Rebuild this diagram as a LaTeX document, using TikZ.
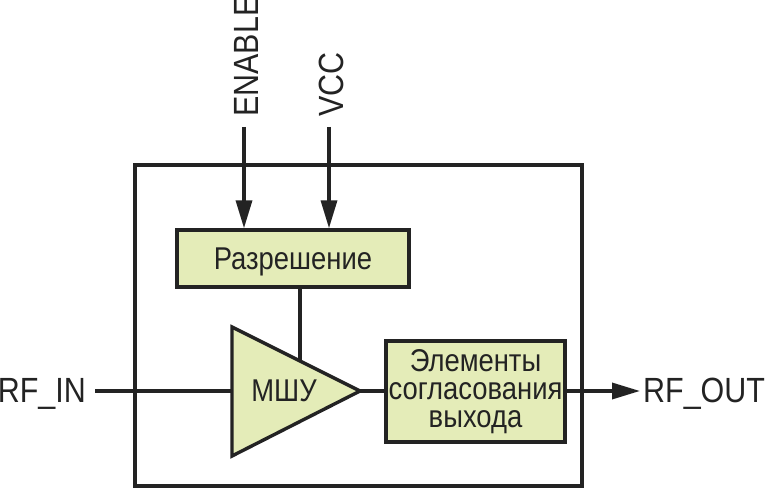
\documentclass[tikz,border=0pt]{standalone}
\usepackage{fontspec}
\setmainfont{Liberation Sans}[FakeStretch=0.87]
\usetikzlibrary{arrows.meta,calc}
\definecolor{ink}{HTML}{232323}
\definecolor{boxfill}{HTML}{E4ECB8}
\begin{document}
\begin{tikzpicture}[x=1pt,y=-1pt,
  every node/.style={text=ink},
  wire/.style={draw=ink,line width=3.4pt},
  blk/.style={draw=ink,line width=3.4pt,fill=boxfill,inner sep=0pt},
  arr/.style={wire,-{Triangle[length=28pt,width=16pt]}},
  lbl/.style={font=\fontsize{35}{40}\selectfont,inner sep=0pt},
  btxt/.style={font=\fontsize{31.5}{28}\selectfont}]
\useasboundingbox[fill=white] (0,0) rectangle (765,489);
% outer chip
\node[draw=ink,line width=3.4pt,minimum width=447pt,minimum height=321pt,inner sep=0pt] (chip) at (358.5,325.5) {};
% enable block
\node[blk,btxt,minimum width=232pt,minimum height=57pt,text depth=0pt] (en) at (293,258.5) {Разрешение};
% LNA triangle
\coordinate (tl) at (232,327);
\coordinate (tb) at (232,456);
\coordinate (tip) at (360,391);
\filldraw[draw=ink,fill=boxfill,line width=3.4pt,line join=miter] (tl) -- (tip) -- (tb) -- cycle;
\node[btxt,inner sep=0pt,text depth=0pt] (lna) at (284,391) {МШУ};
% output matching block
\node[blk,btxt,align=center,minimum width=179pt,minimum height=101pt] (om) at (475.5,391.5) {Элементы\\согласования\\выхода};
% pin labels
\coordinate (enTop) at (244,127);
\coordinate (vccTop) at (329,127);
\node[lbl,rotate=90,anchor=base west] (enl) at (258,117) {ENABLE};
\node[lbl,rotate=90,anchor=base west] (vccl) at (343,117) {VCC};
\node[lbl,anchor=base east] (rfin) at (86,402) {RF\_IN};
\node[lbl,anchor=base west] (rfout) at (643,402) {RF\_OUT};
\coordinate (inStart) at (95,391);
\coordinate (outEnd) at (640,391);
\coordinate (ctl) at (300,361);
% connectors
\draw[arr] (enTop) -- (enTop |- en.north);
\draw[arr] (vccTop) -- (vccTop |- en.north);
\draw[wire] (ctl |- en.south) -- (ctl);
\draw[wire] (inStart) -- (tl |- inStart);
\draw[wire] (tip) -- (tip -| om.west);
\draw[arr] (om.east |- outEnd) -- (outEnd);
\end{tikzpicture}
\end{document}
